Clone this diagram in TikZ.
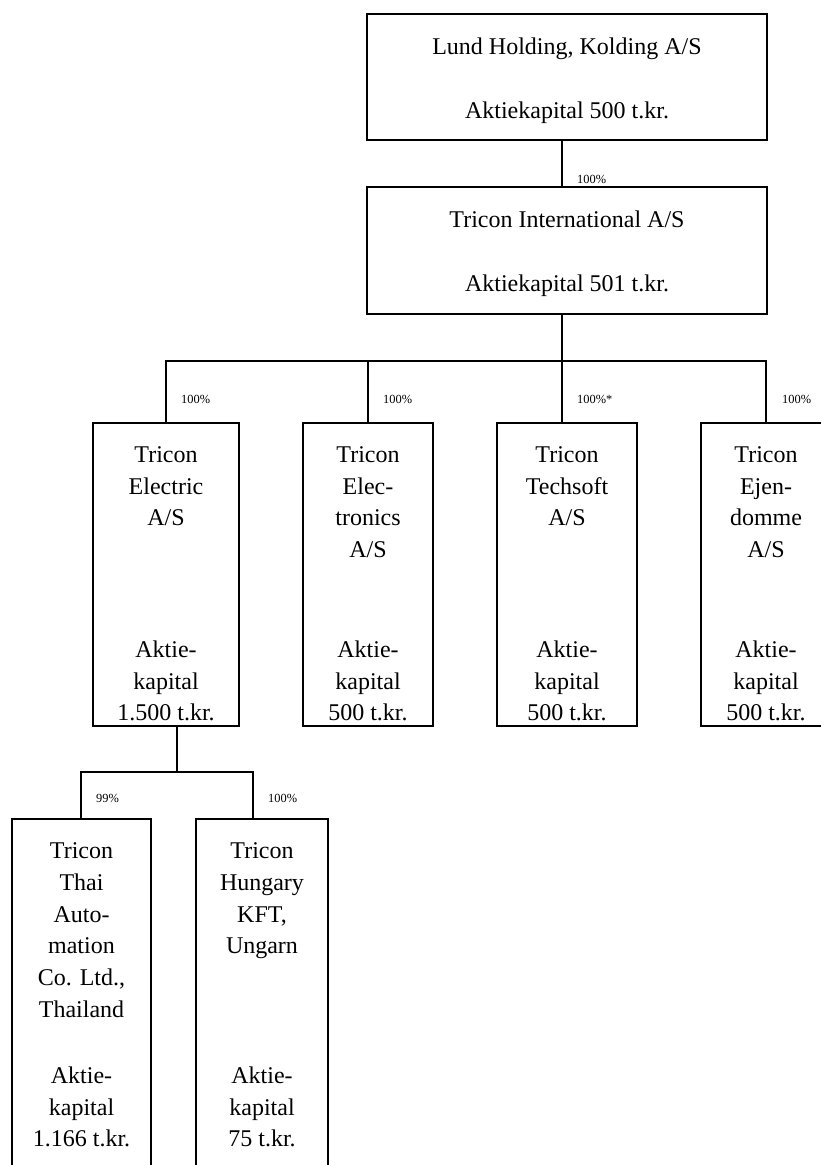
\documentclass[tikz,border=0pt]{standalone}
\usepackage{fontspec}
\setmainfont{Liberation Serif}
\usetikzlibrary{positioning,calc}
\begin{document}
\begin{tikzpicture}[x=1pt,y=-1pt,
  firm/.style={draw,line width=2.2pt,inner sep=0pt,outer sep=0pt,minimum height=303pt},
  firmtext/.style={font=\fontsize{24}{31.7}\selectfont,align=center,inner sep=0pt},
  pct/.style={font=\fontsize{12.4}{14}\selectfont,inner sep=0pt,anchor=west},
  link/.style={line width=2.2pt}
]
\clip (0,0) rectangle (821,1165);
\node[firm,minimum width=400pt,minimum height=126pt] (lund) at (567,77) {};
\node[firm,minimum width=400pt,minimum height=127pt] (intl) at (567,250.5) {};
\node[firm,minimum width=146pt] (electric) at (166,574.5) {};
\node[firm,minimum width=130pt] (electronics) at (368,574.5) {};
\node[firm,minimum width=140pt] (techsoft) at (567,574.5) {};
\node[firm,minimum width=130pt] (ejendomme) at (766,574.5) {};
\node[firm,minimum width=139pt,minimum height=400pt] (thai) at (81.5,1019) {};
\node[firm,minimum width=132pt,minimum height=400pt] (hungary) at (262,1019) {};

\node[firmtext,below=23.5pt of lund.north] (lund-name) {Lund Holding, Kolding A/S};
\node[firmtext,below=87.5pt of lund.north] (lund-cap) {Aktiekapital 500 t.kr.};
\node[firmtext,below=23.5pt of intl.north] (intl-name) {Tricon International A/S};
\node[firmtext,below=87.5pt of intl.north] (intl-cap) {Aktiekapital 501 t.kr.};
\node[firmtext,below=23.5pt of electric.north] (electric-name) {Tricon\\Electric\\A/S};
\node[firmtext,below=217.5pt of electric.north] (electric-cap) {Aktie-\\kapital\\1.500 t.kr.};
\node[firmtext,below=23.5pt of electronics.north] (electronics-name) {Tricon\\Elec-\\tronics\\A/S};
\node[firmtext,below=217.5pt of electronics.north] (electronics-cap) {Aktie-\\kapital\\500 t.kr.};
\node[firmtext,below=23.5pt of techsoft.north] (techsoft-name) {Tricon\\Techsoft\\A/S};
\node[firmtext,below=217.5pt of techsoft.north] (techsoft-cap) {Aktie-\\kapital\\500 t.kr.};
\node[firmtext,below=23.5pt of ejendomme.north] (ejendomme-name) {Tricon\\Ejen-\\domme\\A/S};
\node[firmtext,below=217.5pt of ejendomme.north] (ejendomme-cap) {Aktie-\\kapital\\500 t.kr.};
\node[firmtext,below=23.5pt of thai.north] (thai-name) {Tricon\\Thai\\Auto-\\mation\\Co. Ltd.,\\Thailand};
\node[firmtext,below=247.5pt of thai.north] (thai-cap) {Aktie-\\kapital\\1.166 t.kr.};
\node[firmtext,below=23.5pt of hungary.north] (hungary-name) {Tricon\\Hungary\\KFT,\\Ungarn};
\node[firmtext,below=247.5pt of hungary.north] (hungary-cap) {Aktie-\\kapital\\75 t.kr.};

\coordinate (bar2) at (562,361);
\coordinate (bar3) at (177,772);
\draw[link] ([xshift=-5pt]lund.south) -- ([xshift=-5pt]intl.north);
\draw[link] ([xshift=-5pt]intl.south) -- (bar2);
\draw[link] (electric.north) |- (bar2) -| (ejendomme.north);
\draw[link] (electronics.north) -- (electronics.north |- bar2);
\draw[link] ([xshift=-5pt]techsoft.north) -- (bar2);
\draw[link] ([xshift=11pt]electric.south) -- (bar3);
\draw[link] ([xshift=-0.5pt]thai.north) |- (bar3) -| ([xshift=-9pt]hungary.north);

\node[pct] (pct-intl) at (577,179) {100\%};
\node[pct] (pct-electric) at (181,399) {100\%};
\node[pct] (pct-electronics) at (383,399) {100\%};
\node[pct] (pct-techsoft) at (577,399) {100\%*};
\node[pct] (pct-ejendomme) at (782,399) {100\%};
\node[pct] (pct-thai) at (96,798) {99\%};
\node[pct] (pct-hungary) at (268,798) {100\%};
\end{tikzpicture}
\end{document}
